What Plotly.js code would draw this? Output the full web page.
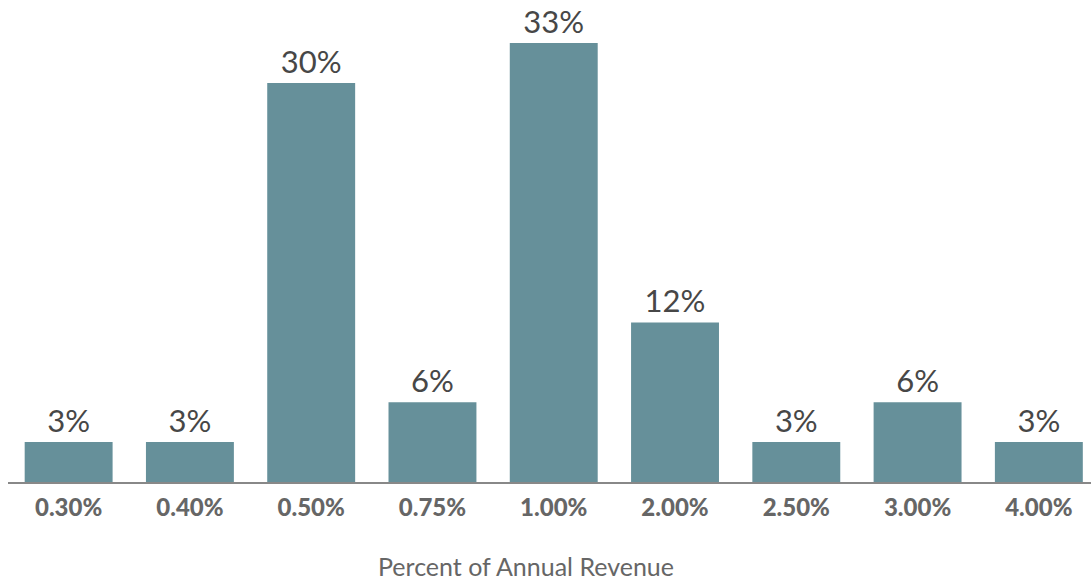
<!DOCTYPE html>
<html>
<head>
<meta charset="utf-8">
<script src="https://cdn.plot.ly/plotly-3.0.1.min.js"></script>
<style>html,body{margin:0;padding:0;background:#fff;}#chart{width:1091px;height:582px;}</style>
</head>
<body>
<div id="chart"></div>
<script>
const categories = ["0.30%", "0.40%", "0.50%", "0.75%", "1.00%", "2.00%", "2.50%", "3.00%", "4.00%"];
const shares = [3, 3, 30, 6, 33, 12, 3, 6, 3];
const shareLabels = shares.map(v => v + "%");
const axisTitle = "Percent of Annual Revenue";

const trace = {
  type: "bar",
  x: categories,
  y: shares,
  text: shareLabels,
  textposition: "outside",
  cliponaxis: false,
  textfont: {family: "Lato, 'Open Sans', sans-serif", size: 31, color: "#474747"},
  marker: {color: "#66909a"},
  hoverinfo: "none"
};

const layout = {
  width: 1091,
  height: 582,
  margin: {l: 8, r: 0, t: 0, b: 100},
  paper_bgcolor: "#ffffff",
  plot_bgcolor: "#ffffff",
  bargap: 0.275,
  showlegend: false,
  xaxis: {
    type: "category",
    range: [-0.5, 8.43],
    showgrid: false,
    zeroline: false,
    showline: true,
    linecolor: "#888888",
    linewidth: 2,
    ticks: "",
    tickfont: {family: "Lato, 'Open Sans', sans-serif", size: 24, color: "#666666", weight: 900},
    ticklabelstandoff: 3
  },
  yaxis: {
    range: [0, 36.24],
    showgrid: false,
    zeroline: false,
    showline: false,
    showticklabels: false,
    ticks: ""
  },
  annotations: [{
    text: axisTitle,
    xref: "paper", yref: "paper",
    x: 0.478, y: -0.175,
    xanchor: "center", yanchor: "middle",
    showarrow: false,
    font: {family: "Lato, 'Open Sans', sans-serif", size: 25, color: "#666666"}
  }]
};

Plotly.newPlot("chart", [trace], layout, {displayModeBar: false, staticPlot: true});
</script>
</body>
</html>
